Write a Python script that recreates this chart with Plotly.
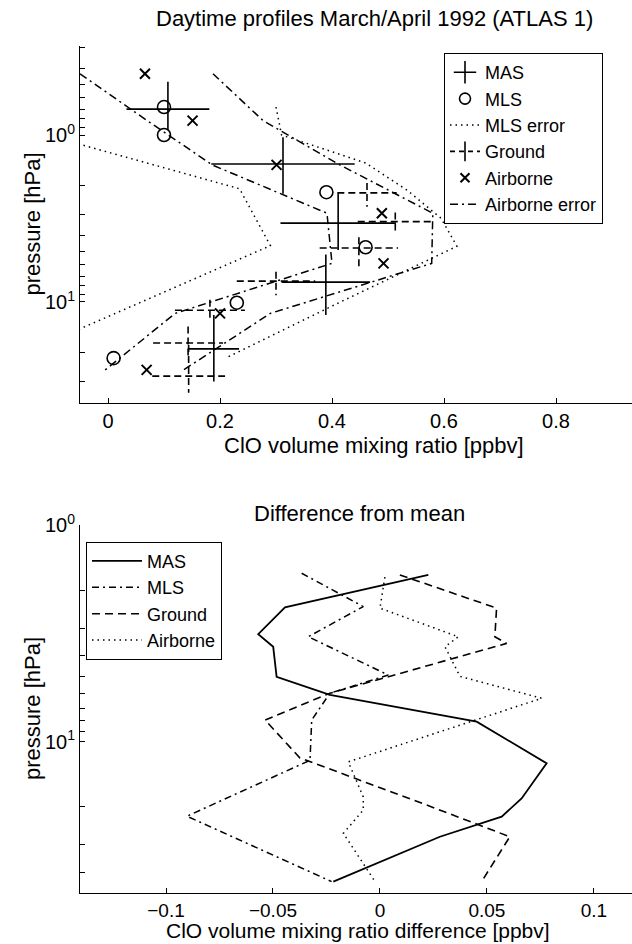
import math
import plotly.graph_objects as go

# ---------------- top panel data ----------------
MAS_X = [0.107, 0.3125, 0.411, 0.389, 0.189]
MAS_P = [0.70, 1.49, 3.37, 7.6, 19.1]
MAS_XERR = [0.074, 0.128, 0.103, 0.079, 0.045]
MAS_P_TOP = [0.48, 1.03, 2.23, 5.2, 11.95]
MAS_P_BOT = [0.93, 2.25, 4.89, 11.95, 29.9]

MLS_X = [0.10, 0.10, 0.39, 0.46, 0.23, 0.01]
MLS_P = [0.68, 1.0, 2.2, 4.7, 10.1, 21.7]

MLS_ERR_LO_X = [-0.11, 0.235, 0.29, 0.06, -0.17]
MLS_ERR_LO_P = [1.0, 2.1, 4.6, 10.1, 21.7]
MLS_ERR_HI_X = [0.30, 0.31, 0.46, 0.535, 0.595, 0.623, 0.415, 0.21]
MLS_ERR_HI_P = [0.68, 1.0, 1.47, 2.15, 3.16, 4.64, 10.0, 21.7]

GND_X = [0.4625, 0.513, 0.448, 0.30, 0.182, 0.143, 0.144]
GND_P = [2.22, 3.30, 4.75, 7.5, 11.2, 17.6, 27.8]
GND_XERR = [0.053, 0.067, 0.07, 0.07, 0.0625, 0.0625, 0.065]
GND_P_TOP = [1.94, 2.91, 4.1, 6.6, 9.7, 14.0, 18.1]
GND_P_BOT = [2.69, 3.85, 6.1, 9.1, 12.8, 22.2, 35.0]

AIR_X = [0.066, 0.151, 0.301, 0.489, 0.492, 0.200, 0.069]
AIR_P = [0.43, 0.82, 1.51, 2.94, 5.87, 11.7, 25.5]
AIR_ERR_LO_X = [-0.05, 0.07, 0.186, 0.391, 0.40, 0.12, -0.005]
AIR_ERR_HI_X = [0.1875, 0.277, 0.414, 0.58, 0.578, 0.29, 0.135]

TOP_XTICKS = [0, 0.2, 0.4, 0.6, 0.8]
TOP_XTICKTEXT = ["0", "0.2", "0.4", "0.6", "0.8"]

# ---------------- bottom panel data ----------------
D_MAS_X = [0.0226, -0.0444, -0.0569, -0.0499, -0.0483, -0.0234, 0.0452, 0.0779, 0.0662, 0.0569, 0.028, -0.0218]
D_MAS_P = [1.70, 2.40, 3.19, 3.65, 5.02, 6.09, 8.09, 12.6, 18.3, 22.2, 27.5, 44.3]
D_MLS_X = [-0.0366, -0.0078, -0.0335, 0.0039, -0.0234, -0.0319, -0.0327, -0.0902, -0.0226]
D_MLS_P = [1.67, 2.38, 3.28, 4.93, 5.98, 7.95, 12.2, 22.1, 44.3]
D_GND_X = [0.0093, 0.0545, 0.0537, 0.0592, -0.0234, -0.0537, -0.0374, 0.0156, 0.0607, 0.0475]
D_GND_P = [1.70, 2.42, 3.28, 3.52, 5.98, 7.95, 11.9, 18.6, 27.5, 44.3]
D_AIR_X = [0.0023, 0.0, 0.0366, 0.0304, 0.0374, 0.0756, -0.0148, -0.0078, -0.0078, -0.0171, -0.0023]
D_AIR_P = [1.74, 2.42, 3.28, 3.65, 5.0, 6.31, 12.4, 18.0, 20.7, 26.5, 44.3]

BOT_XTICKS = [-0.1, -0.05, 0, 0.05, 0.1]
BOT_XTICKTEXT = ["\u22120.1", "\u22120.05", "0", "0.05", "0.1"]

FONT = "Liberation Sans, Arial, sans-serif"
BLACK = "black"


def cross_segments(xs, ps, xerr, ptop, pbot):
    X, Y = [], []
    for x, p, e, a, b in zip(xs, ps, xerr, ptop, pbot):
        X += [x - e, x + e, None, x, x, None]
        Y += [p, p, None, a, b, None]
    return X, Y


fig = go.Figure()

# ---- top panel ----
mx, my = cross_segments(MAS_X, MAS_P, MAS_XERR, MAS_P_TOP, MAS_P_BOT)
fig.add_trace(go.Scatter(x=mx, y=my, mode="lines", line=dict(color=BLACK, width=1.6),
                         showlegend=False, xaxis="x", yaxis="y"))
gx, gy = cross_segments(GND_X, GND_P, GND_XERR, GND_P_TOP, GND_P_BOT)
fig.add_trace(go.Scatter(x=gx, y=gy, mode="lines", line=dict(color=BLACK, width=1.6, dash="7px,4px"),
                         showlegend=False, xaxis="x", yaxis="y"))
fig.add_trace(go.Scatter(x=MLS_ERR_LO_X, y=MLS_ERR_LO_P, mode="lines",
                         line=dict(color=BLACK, width=1.5, dash="1.5px,4px"),
                         showlegend=False, xaxis="x", yaxis="y"))
fig.add_trace(go.Scatter(x=MLS_ERR_HI_X, y=MLS_ERR_HI_P, mode="lines",
                         line=dict(color=BLACK, width=1.5, dash="1.5px,4px"),
                         showlegend=False, xaxis="x", yaxis="y"))
fig.add_trace(go.Scatter(x=AIR_ERR_LO_X, y=AIR_P, mode="lines",
                         line=dict(color=BLACK, width=1.5, dash="8px,4px,2px,4px"),
                         showlegend=False, xaxis="x", yaxis="y"))
fig.add_trace(go.Scatter(x=AIR_ERR_HI_X, y=AIR_P, mode="lines",
                         line=dict(color=BLACK, width=1.5, dash="8px,4px,2px,4px"),
                         showlegend=False, xaxis="x", yaxis="y"))
fig.add_trace(go.Scatter(x=MLS_X, y=MLS_P, mode="markers",
                         marker=dict(symbol="circle-open", size=13, color=BLACK, line=dict(width=1.6)),
                         showlegend=False, xaxis="x", yaxis="y"))
fig.add_trace(go.Scatter(x=AIR_X, y=AIR_P, mode="markers",
                         marker=dict(symbol="x-thin-open", size=10, color=BLACK, line=dict(width=2)),
                         showlegend=False, xaxis="x", yaxis="y"))

# legend proxies (top)
proxies = [
    ("MAS", dict(mode="markers", marker=dict(symbol="cross-thin-open", size=18, color=BLACK, line=dict(width=1.6, color=BLACK)))),
    ("MLS", dict(mode="markers", marker=dict(symbol="circle-open", size=11, color=BLACK, line=dict(width=1.6, color=BLACK)))),
    ("MLS error", dict(mode="lines", line=dict(color=BLACK, width=1.5, dash="1.5px,4px"))),
    ("Ground", dict(mode="lines+markers", line=dict(color=BLACK, width=1.6, dash="5px,4px"),
                    marker=dict(symbol="line-ns-open", size=14, color=BLACK, line=dict(width=1.6, color=BLACK)))),
    ("Airborne", dict(mode="markers", marker=dict(symbol="x-thin-open", size=9, color=BLACK, line=dict(width=2, color=BLACK)))),
    ("Airborne error", dict(mode="lines", line=dict(color=BLACK, width=1.5, dash="8px,4px,2px,4px"))),
]
for i, (name, kw) in enumerate(proxies):
    fig.add_trace(go.Scatter(x=[None], y=[None], name=name, legend="legend", legendrank=i + 1,
                             xaxis="x", yaxis="y", **kw))

# ---- bottom panel ----
bottom = [
    ("MAS", D_MAS_X, D_MAS_P, dict(color=BLACK, width=1.8)),
    ("MLS", D_MLS_X, D_MLS_P, dict(color=BLACK, width=1.5, dash="7px,4px,2px,4px")),
    ("Ground", D_GND_X, D_GND_P, dict(color=BLACK, width=1.6, dash="8px,5px")),
    ("Airborne", D_AIR_X, D_AIR_P, dict(color=BLACK, width=1.5, dash="1.5px,4px")),
]
for i, (name, xs, ps, ln) in enumerate(bottom):
    fig.add_trace(go.Scatter(x=xs, y=ps, mode="lines", line=ln, name=name, legend="legend2",
                             legendrank=i + 1, xaxis="x2", yaxis="y2"))

# ---------------- layout ----------------
W, H = 632, 944
ML, MR, MT, MB = 80, 0, 46, 51
PH = H - MT - MB
PW = W - ML - MR


def py(ypx):
    return (H - MB - ypx) / PH


def px(xpx):
    return (xpx - ML) / PW


def minor_log(lo, hi):
    vals = []
    for d in range(-1, 2):
        for m in range(2, 10):
            v = m * 10 ** d
            if lo <= v <= hi:
                vals.append(v)
    return vals


axis_common = dict(showline=True, linecolor=BLACK, linewidth=1, ticks="inside", ticklen=5,
                   tickcolor=BLACK, showgrid=False, zeroline=False, mirror=False,
                   tickfont=dict(family=FONT, size=20, color=BLACK))
log_ticks = dict(tickmode="array", tickvals=[1, 10], ticktext=["10<sup>0</sup>", "10<sup>1</sup>"])

fig.update_layout(
    width=W, height=H,
    margin=dict(l=ML, r=MR, t=MT, b=MB),
    paper_bgcolor="white", plot_bgcolor="white",
    font=dict(family=FONT, size=20, color=BLACK),
    xaxis=dict(domain=[0, 1], anchor="y", range=[-0.05, 0.9357],
               tickmode="array", tickvals=TOP_XTICKS, ticktext=TOP_XTICKTEXT, **axis_common),
    yaxis=dict(domain=[py(402.5), 1], anchor="x", type="log",
               range=[math.log10(40), math.log10(0.293)],
               minor=dict(tickmode="array", tickvals=minor_log(0.295, 40.01), ticks="inside",
                          ticklen=5, tickcolor=BLACK, showgrid=False),
               **log_ticks, **axis_common),
    xaxis2=dict(domain=[0, 1], anchor="y2", range=[-0.1402, 0.1178],
                tickmode="array", tickvals=BOT_XTICKS, ticktext=BOT_XTICKTEXT, **axis_common),
    yaxis2=dict(domain=[0, py(525)], anchor="x2", type="log",
                range=[math.log10(50), 0],
                minor=dict(tickmode="array", tickvals=minor_log(1.5, 40.01), ticks="inside",
                           ticklen=5, tickcolor=BLACK, showgrid=False),
                **log_ticks, **axis_common),
    legend=dict(x=px(444), y=py(53), xanchor="left", yanchor="top",
                bordercolor=BLACK, borderwidth=1, bgcolor="white",
                font=dict(family=FONT, size=18, color=BLACK), tracegroupgap=0,
                itemwidth=30),
    legend2=dict(x=px(86), y=py(541.7), xanchor="left", yanchor="top",
                 bordercolor=BLACK, borderwidth=1, bgcolor="white",
                 font=dict(family=FONT, size=18, color=BLACK), tracegroupgap=0,
                 itemwidth=50),
    showlegend=True,
)
fig.update_xaxes(tickfont_size=19, selector=dict(anchor="y2"))

ann = dict(xref="paper", yref="paper", showarrow=False)


def label(text, x, y, size, angle=0):
    fig.add_annotation(text=text, x=px(x), y=py(y), textangle=angle, xanchor="center",
                       yanchor="middle", font=dict(family=FONT, size=size, color=BLACK), **ann)


label("Daytime profiles March/April 1992 (ATLAS 1)", 374, 18, 22)
label("ClO volume mixing ratio [ppbv]", 374, 445, 22)
label("pressure [hPa]", 32, 224.5, 22, -90)
label("Difference from mean", 359, 513, 22)
label("ClO volume mixing ratio difference [ppbv]", 358, 931, 21)
label("pressure [hPa]", 32, 709, 22, -90)

fig.write_html("out.html",
               config={"displayModeBar": False, "staticPlot": True},
               post_script="document.body.style.margin='0';document.body.style.overflow='hidden';")
